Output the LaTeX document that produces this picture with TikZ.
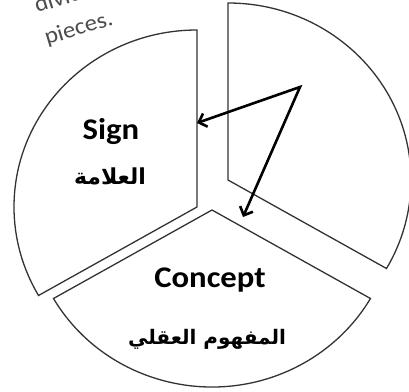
\documentclass[tikz,border=0pt]{standalone}
\usepackage{fontspec}
\setmainfont{Carlito}
\newfontfamily\arabicfont[Script=Arabic]{DejaVu Sans}
\usetikzlibrary{arrows.meta}
\TeXXeTstate=1

\tikzset{
  secteur/.style={draw=black!80, line width=1.3pt, line join=miter},
  fleche/.style={line width=2.6pt, line join=miter,
    {Straight Barb[length=7pt,width=14pt]}-{Straight Barb[length=7pt,width=14pt]}},
  titre/.style={font=\bfseries\fontsize{30}{36}\selectfont, anchor=base, xscale=1.09},
  arabe/.style={font=\arabicfont\bfseries\fontsize{22}{26}\selectfont, anchor=base},
  note/.style={font=\fontsize{23}{28}\selectfont, text=black!70,
    rotate=17, anchor=base west, inner sep=0pt, xscale=1.08},
}

\begin{document}
\begin{tikzpicture}[x=1pt,y=1pt]
    % Cadre de l'image
    \useasboundingbox (0,0) rectangle (409,391);

    % Sommets des trois secteurs
    \coordinate (sommetG) at (197,184);
    \coordinate (sommetD) at (228,211);
    \coordinate (sommetB) at (212,181);

    % Secteur gauche (Sign)
    \draw[secteur] (sommetG) -- ++(0,177)
        arc[start angle=90, end angle=210, x radius=183, y radius=177] -- cycle;

    % Secteur droit
    \draw[secteur] (sommetD) -- ++(0,177)
        arc[start angle=90, end angle=-30, x radius=183, y radius=177] -- cycle;

    % Secteur du bas (Concept)
    \draw[secteur] (sommetB) -- ++(-158.5,-88.5)
        arc[start angle=210, end angle=330, x radius=183, y radius=177] -- cycle;

    % Textes des secteurs
    \node[titre] (signe) at (111,251) {Sign};
    \node[arabe] (signear) at (110,206) {\beginR العلامة\endR};
    \node[titre] (concept) at (210,104) {Concept};
    \node[arabe, font=\arabicfont\bfseries\fontsize{20}{24}\selectfont] (conceptar) at (207,47) {\beginR المفهوم العقلي\endR};

    % Note en haut a gauche
    \node[note] (remarque1) at (37,378) {divided};
    \node[note] (remarque2) at (47,346) {pieces.};

    % Fleches depuis le point commun
    \coordinate (depart) at (300,304);
    \coordinate (pointeS) at (197,268);
    \coordinate (pointeC) at (243,174);
    \draw[fleche] (pointeS) -- (depart) -- (pointeC);
\end{tikzpicture}
\end{document}
